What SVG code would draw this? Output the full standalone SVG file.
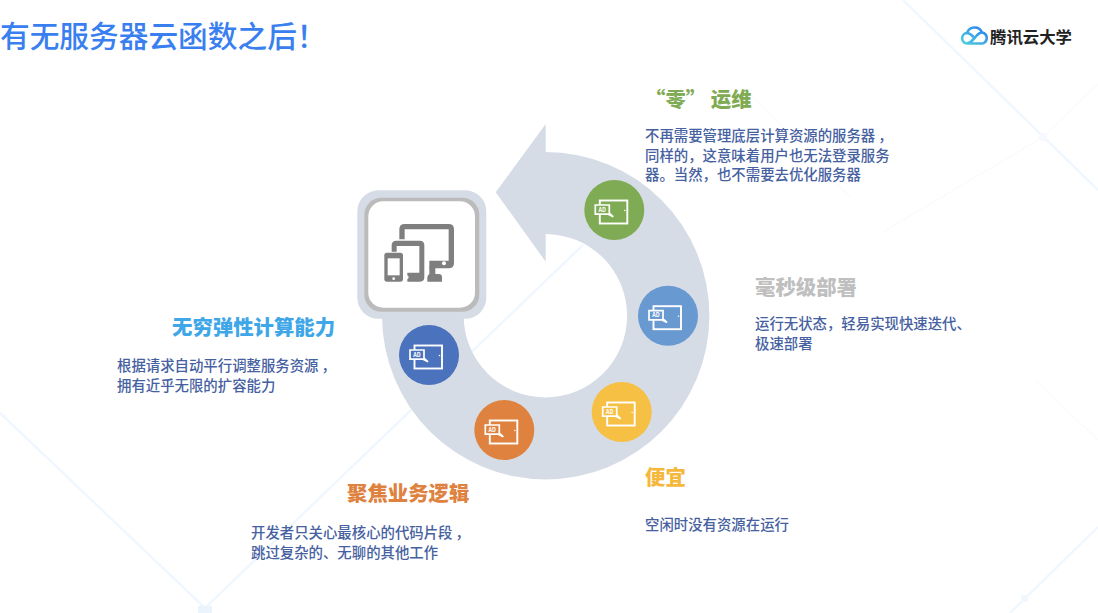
<svg xmlns="http://www.w3.org/2000/svg" width="1098" height="613" viewBox="0 0 1098 613">
<style>
text{font-family:"Noto Sans CJK SC","Noto Sans",sans-serif}
.t{font-size:29.7px;fill:#3a7ff0;font-weight:500}
.h{font-size:20.4px;font-weight:900}
.b{font-size:14.4px;fill:#46619f;font-weight:500}
.bg{fill:none;stroke:#f0f7fe;stroke-width:2.5}
.bg2{fill:none;stroke:#f9fbfe;stroke-width:1.5}
.ring{fill:#d6dce5}
.dev{fill:#7f7f7f}
.i{fill:none;stroke:#fff;stroke-width:1.9}
</style>
<defs>
<linearGradient id="cl" x1="0" y1="1" x2="1" y2="0"><stop offset="0" stop-color="#4fd0dc"/><stop offset="1" stop-color="#2a7df0"/></linearGradient>
<g id="ad">
<circle r="30" fill="currentColor"/>
<rect x="-14.500" y="-9.500" width="27.500" height="23" class="i"/>
<circle cx="10.500" cy="0.500" r="0.800" fill="#fff"/>
<path d="M-19-5H-5V3.200L-1 6.800L-6 4.200H-19Z" fill="currentColor" stroke="#fff" stroke-width="1.700"/>
<text x="-12" y="1.500" font-size="5.500" font-weight="700" fill="#fff" text-anchor="middle">AD</text>
</g>
</defs>
<rect width="1098" height="613" fill="#fff"/>
<g id="background">
<path class="bg" d="M0 413L205 608L583 245"/>
<path class="bg" d="M903 0L1098 190"/>
<path class="bg2" d="M1043 137L883 232M1043 137L1098 84"/>
<path class="bg2" d="M1035 380L1098 440"/>
<path class="bg" d="M1098 527L1010 613"/>
<path class="bg2" d="M750 93L850 197"/>
<rect x="198" y="606" width="14" height="7" fill="#ebf4fd"/>
<rect x="1021" y="595" width="7" height="7" fill="#f0f7fe"/>
<circle cx="1043" cy="137" r="4" fill="#f6f9fd"/>
</g>
<text class="t" x="0" y="47">有无服务器云函数之后！</text>
<g id="logo">
<path d="M966.500 43.500A5.300 5.300 0 0 1 967 33A8 8 0 0 1 982 32.500A5.500 5.500 0 0 1 980.500 43.500H966.500C971 43.500 972.500 40 975 37.500C977 35 979 32.500 982 32.500M967 33C970 33 971.500 35 973.500 37" fill="none" stroke="url(#cl)" stroke-width="2.600"/>
<text x="990" y="42.500" font-size="16.400" font-weight="700" fill="#222">腾讯云大学</text>
</g>
<g id="connectors">
<path class="ring" d="M495.700 192.300L545.700 124V152A163.700 163.700 0 1 1 382 315.700H463.700A81.700 81.700 0 1 0 545.700 234V261.700Z"/>
</g>
<g id="center-node">
<rect x="357.300" y="190.300" width="129" height="128.500" rx="21" class="ring"/>
<rect x="364.300" y="197.700" width="115" height="114" rx="17" fill="#bbb"/>
<rect x="368.300" y="201.300" width="106.700" height="106.400" rx="15" fill="#fff"/>
<g transform="translate(370 200) scale(.3333)">
<path class="dev" d="M88 118V88Q88 72 104 72H236Q252 72 252 88V190Q252 205 236 205H178V182H236V88H104V118Z"/>
<circle cx="222" cy="190" r="6" fill="#fff"/>
<path class="dev" d="M178 200H196V222H206Q216 222 216 232V245H172V232Q172 226 178 222Z"/>
<path class="dev" d="M65 155V136Q65 122 79 122H150Q163 122 163 136V232Q163 245 150 245H112V238Q120 232 112 226V218H148V138H80V155Z"/>
<rect class="dev" x="43" y="158" width="56" height="87" rx="8"/>
<rect x="53" y="175" width="36" height="51" fill="#fff"/>
<circle cx="71" cy="236" r="4" fill="#fff"/>
</g>
</g>
<g id="node-zero-ops">
<use href="#ad" x="614.300" y="210" color="#7fab55"/>
<text class="h" x="645" y="107" fill="#7fab55">“零” 运维</text>
<text class="b" x="645" y="140.500">不再需要管理底层计算资源的服务器<tspan dx="3">，</tspan></text>
<text class="b" x="645" y="160.500">同样的，这意味着用户也无法登录服务</text>
<text class="b" x="645" y="180">器。当然，也不需要去优化服务器</text>
</g>
<g id="node-deploy">
<use href="#ad" x="668" y="315.700" color="#6899d0"/>
<text class="h" x="755" y="295" fill="#bfbfbf">毫秒级部署</text>
<text class="b" x="755" y="328.500">运行无状态，轻易实现快速迭代、</text>
<text class="b" x="755" y="348.500">极速部署</text>
</g>
<g id="node-cheap">
<use href="#ad" x="621.700" y="412" color="#f5c044"/>
<text class="h" x="645" y="485" fill="#f5b83d">便宜</text>
<text class="b" x="645" y="530">空闲时没有资源在运行</text>
</g>
<g id="node-logic">
<use href="#ad" x="504.300" y="430" color="#e0823f"/>
<text class="h" x="347" y="501" fill="#e0823f">聚焦业务逻辑</text>
<text class="b" x="251" y="537.500">开发者只关心最核心的代码片段<tspan dx="3">，</tspan></text>
<text class="b" x="251" y="557.500">跳过复杂的、无聊的其他工作</text>
</g>
<g id="node-elastic">
<use href="#ad" x="429" y="355" color="#4b72bc"/>
<text class="h" x="172" y="334.500" fill="#3fa7e8">无穷弹性计算能力</text>
<text class="b" x="117" y="370.500">根据请求自动平行调整服务资源<tspan dx="3">，</tspan></text>
<text class="b" x="117" y="390.500">拥有近乎无限的扩容能力</text>
</g>
</svg>
